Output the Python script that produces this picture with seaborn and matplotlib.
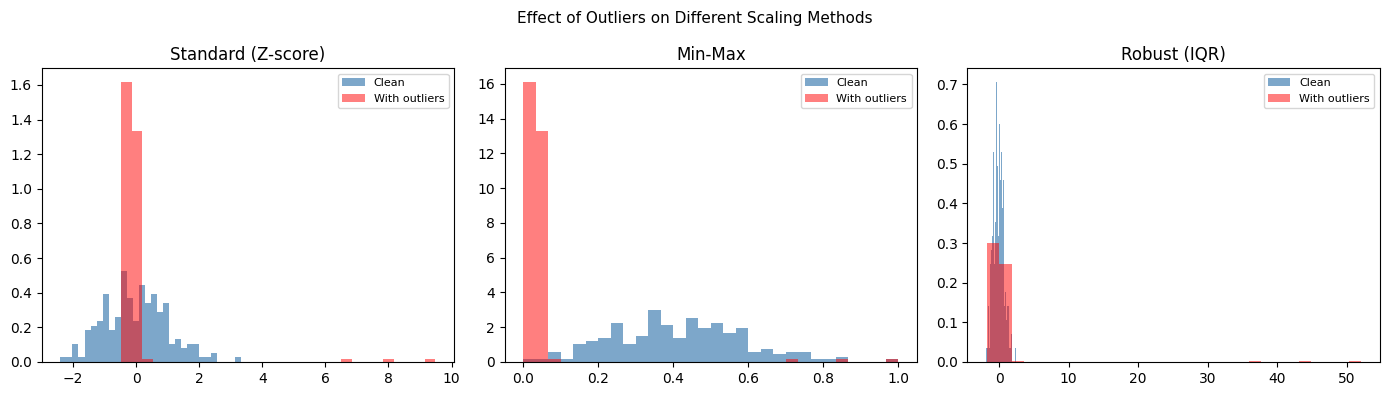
import numpy as np
import pandas as pd
import matplotlib
matplotlib.use("Agg")
import matplotlib.pyplot as plt
import seaborn as sns

N_BINS = 30

# bin counts (same samples, each scaled linearly, so counts per bin are shared)
clean_counts = [1, 1, 4, 1, 7, 8, 9, 15, 7, 10, 20, 14, 9, 17, 13,
                15, 11, 13, 4, 5, 3, 4, 4, 1, 1, 2, 0, 0, 0, 1]
outlier_counts = [109, 90, 1, 0, 0, 0, 0, 0, 0, 0, 0, 0, 0, 0, 0,
                  0, 0, 0, 0, 0, 0, 1, 0, 0, 0, 1, 0, 0, 0, 1]

# data range (min, max) of each series after scaling
methods = ["Standard (Z-score)", "Min-Max", "Robust (IQR)"]
clean_ranges = [(-2.40, 3.33), (0.0, 1.0), (-1.87, 2.38)]
outlier_ranges = [(-0.476, 9.49), (0.0, 1.0), (-1.75, 52.1)]


def binned_frame(counts, lo, hi):
    width = (hi - lo) / N_BINS
    centers = lo + (np.arange(N_BINS) + 0.5) * width
    return pd.DataFrame({"value": centers, "count": counts})


def run():
    fig, axes = plt.subplots(1, 3, figsize=(13.89, 3.96), dpi=100)

    for ax, name, cr, orng in zip(axes, methods, clean_ranges, outlier_ranges):
        df_clean = binned_frame(clean_counts, *cr)
        df_out = binned_frame(outlier_counts, *orng)

        sns.histplot(data=df_clean, x="value", weights="count", bins=N_BINS,
                     binrange=cr, stat="density", color="steelblue",
                     alpha=0.7, linewidth=0, label="Clean", ax=ax)
        sns.histplot(data=df_out, x="value", weights="count", bins=N_BINS,
                     binrange=orng, stat="density", color="red",
                     alpha=0.5, linewidth=0, label="With outliers", ax=ax)

        ax.set_title(name, fontsize=12)
        ax.set_xlabel("")
        ax.set_ylabel("")
        ax.legend(fontsize=8)

    fig.suptitle("Effect of Outliers on Different Scaling Methods",
                 fontsize=11, y=0.972)
    fig.subplots_adjust(left=0.030, right=0.9935, top=0.828, bottom=0.086,
                        wspace=0.122)
    plt.savefig("out.png", dpi=100)


if __name__ == "__main__":
    run()
